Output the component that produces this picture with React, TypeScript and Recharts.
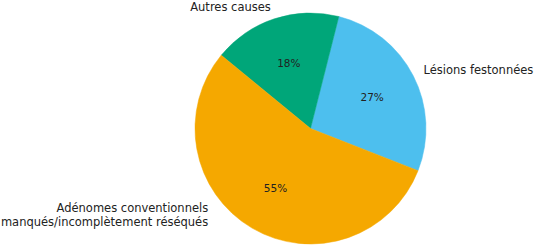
import { PieChart, Pie, Cell } from "recharts";

const categories = [
  "Lésions festonnées",
  "Autres causes",
  "Adénomes conventionnels\nmanqués/incomplètement réséqués",
];
const shares = [27, 18, 55];
const COLORS = ["#4DBFEE", "#00A679", "#F5A800"];

// label nudges (the big slice label sits closer in than the others)
const labelShift = [
  { dx: 0, dy: 0 },
  { dx: 0, dy: -1 },
  { dx: -38, dy: -23 },
];

const data = categories.map((name, i) => ({ name, value: shares[i] }));

const RADIAN = Math.PI / 180;

function renderLabel(props: any) {
  const { cx, cy, midAngle, outerRadius, index, percent } = props;
  const cos = Math.cos(-midAngle * RADIAN);
  const sin = Math.sin(-midAngle * RADIAN);
  const px = cx + outerRadius * 0.6 * cos;
  const py = cy + outerRadius * 0.6 * sin;
  const lx = cx + outerRadius * 1.1 * cos + labelShift[index].dx;
  const ly = cy + outerRadius * 1.1 * sin + labelShift[index].dy;
  const lines = categories[index].split("\n");
  const anchor = cos >= 0 ? "start" : "end";
  const lineH = 14.5;
  const startY = ly - ((lines.length - 1) * lineH) / 2;
  return (
    <g>
      <text
        x={px}
        y={py}
        textAnchor="middle"
        dominantBaseline="central"
        fontSize={10.5}
        fill="#222"
      >
        {Math.round(percent * 100)}%
      </text>
      <text
        x={lx}
        y={startY}
        textAnchor={anchor}
        dominantBaseline="central"
        fontSize={11.5}
        fill="#222"
      >
        {lines.map((l, i) => (
          <tspan key={i} x={lx} dy={i === 0 ? 0 : lineH}>
            {l}
          </tspan>
        ))}
      </text>
    </g>
  );
}

export default function App() {
  return (
    <div
      style={{
        position: "absolute",
        left: 0,
        top: 0,
        background: "#fff",
        fontFamily: "'DejaVu Sans', sans-serif",
      }}
    >
      <PieChart
        width={537}
        height={248}
        margin={{ top: 0, right: 0, bottom: 0, left: 0 }}
      >
        <Pie
          data={data}
          dataKey="value"
          nameKey="name"
          cx={310.5}
          cy={128.5}
          outerRadius={115.5}
          startAngle={-21.4}
          endAngle={338.6}
          label={renderLabel}
          labelLine={false}
          isAnimationActive={false}
        >
          {data.map((entry, index) => (
            <Cell
              key={`cell-${index}`}
              fill={COLORS[index]}
              stroke={COLORS[index]}
              strokeWidth={0.5}
            />
          ))}
        </Pie>
      </PieChart>
    </div>
  );
}
